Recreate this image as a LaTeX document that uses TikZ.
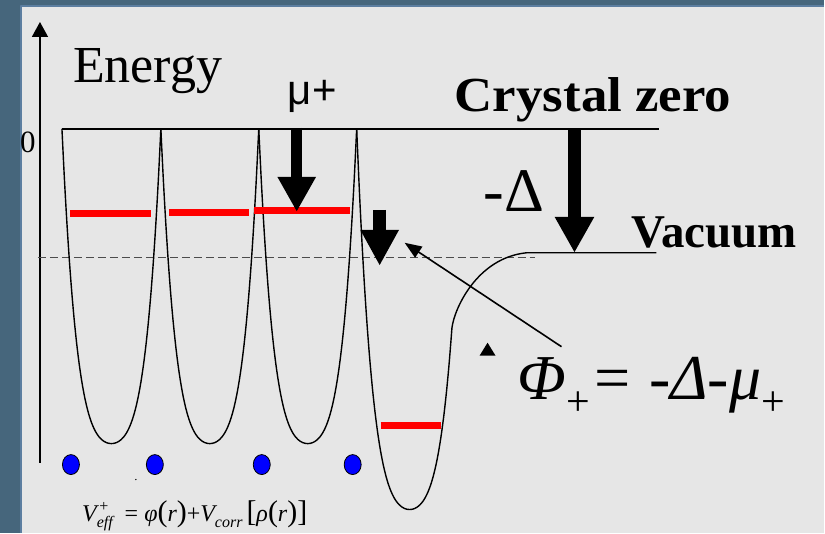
\documentclass[tikz,border=0pt]{standalone}
\usepackage{fontspec}
\setmainfont{Liberation Serif}
\newfontfamily\sansfam{Liberation Sans}
\usetikzlibrary{arrows.meta}
\definecolor{fundo}{RGB}{70,102,124}
\definecolor{borda}{RGB}{92,126,160}
\definecolor{painel}{RGB}{230,230,230}
\newcommand{\tam}[1]{\fontsize{#1}{#1}\selectfont}
\tikzset{
  texto/.style={anchor=base west, inner sep=0pt},
  poco/.style={line width=1.4pt},
  nivel/.style={line width=7pt, red},
  bloco/.style={line width=#1},
}
\begin{document}
\begin{tikzpicture}[x=1pt, y=-1pt, line join=round]
  % fundo do slide
  \fill[fundo] (0,0) rectangle (825,533);
  \fill[painel] (21,6) rectangle (825,533);
  \draw[borda, line width=1.5pt] (21,533) -- (21,6) -- (825,6);
  \useasboundingbox (0,0) rectangle (825,533);

  % eixo da energia
  \coordinate (eixo0) at (40,463);
  \coordinate (eixo1) at (40,22);
  \draw[line width=1.6pt, -{Triangle[width=16pt,length=15pt]}] (eixo0) -- (eixo1);
  \node[texto, font=\tam{52}] (energia) at (73,83) {Energy};
  \node[texto, font=\tam{31}] (zero) at (20,153) {0};

  % zero do cristal e vacuo
  \coordinate (z0) at (62,129);
  \coordinate (z1) at (660,129);
  \draw[line width=2pt] (z0) -- (z1);
  \draw[dashed, dash pattern=on 8pt off 4pt, black!70, line width=1pt] (38,258) -- (535,258);

  % pocos da rede (centro/meia largura)
  \foreach \xc/\hw in {111.5/49.5, 210/49, 308/49}
    \draw[poco] plot[domain=-1:1, samples=41, smooth]
      ({\xc+\hw*\x},{444-315*(0.3*\x*\x+0.7*\x*\x*\x*\x)});
  % poco da superficie, sobe ate o vacuo
  \draw[poco] plot[domain=-1:0.8, samples=37, smooth]
      ({410+53*\x},{510-381*(0.3*\x*\x+0.7*\x*\x*\x*\x)})
    .. controls (455,308) and (478,258) .. (527,253) -- (657,253);

  % niveis
  \foreach \xa/\xb/\yn in {70/151/214, 169/249/213, 254/350/211, 381/441/426}
    \draw[nivel] (\xa,\yn) -- (\xb,\yn);

  % ions
  \foreach \xp in {71,155,262,353}
    \draw[fill=blue, line width=0.8pt] (\xp,465) ellipse [x radius=8.5pt, y radius=10pt];
  \fill (136,480) circle (0.7pt);

  % setas grossas
  \coordinate (mu0) at (297,128);
  \coordinate (mu1) at (297,212);
  \draw[bloco=11pt, -{Triangle[width=36pt,length=35pt]}] (mu0) -- (mu1);
  \node[texto, font=\sansfam\tam{42}] (mu) at (288,105) {μ+};

  \coordinate (ph0) at (380,210);
  \coordinate (ph1) at (380,266);
  \draw[bloco=13pt, -{Triangle[width=36pt,length=36pt]}] (ph0) -- (ph1);

  \coordinate (de0) at (575,130);
  \coordinate (de1) at (575,253);
  \draw[bloco=13pt, -{Triangle[width=37pt,length=36pt]}] (de0) -- (de1);
  \node[texto, font=\tam{62}] (delta) at (484,212) {-Δ};

  \node[texto, font=\bfseries\tam{49}] (cristal) at (455,112) {\scalebox{1.08}[1]{Crystal zero}};
  \node[texto, font=\bfseries\tam{47}] (vacuo) at (632,248) {Vacuum};

  % funcao trabalho
  \node[texto, font=\tam{64}] (phi) at (518,400)
    {\itshape Φ\lower16pt\hbox{\upshape\tam{42}+}= -Δ-μ\lower16pt\hbox{\upshape\tam{42}+}};
  \coordinate (phiponta) at (562,347);
  \coordinate (alvo) at (405,243);
  \draw[line width=1.6pt, -{Triangle[width=13pt,length=17pt]}] (phiponta) -- (alvo);
  \fill (480,356) -- (496,356) -- (488,343) -- cycle;

  % potencial efetivo
  \node[texto, font=\tam{24}] (veff) at (82,522)
    {\itshape V\rlap{\raisebox{10pt}{\upshape\tam{16}\,+}}\raisebox{-6pt}{\tam{16}eff}\ \ \upshape= \itshape φ{\upshape\tam{30}(}r{\upshape\tam{30})}\upshape+\itshape V\raisebox{-6pt}{\tam{16}corr}\,{\upshape\tam{30}[}ρ{\upshape\tam{30}(}r{\upshape\tam{30})]}};
\end{tikzpicture}
\end{document}
